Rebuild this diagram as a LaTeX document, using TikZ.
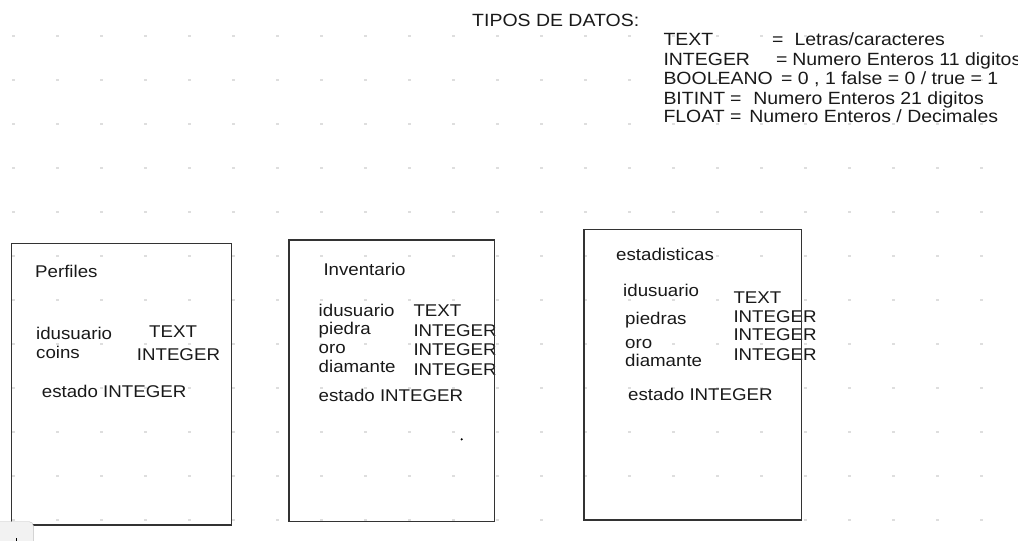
\documentclass[tikz,border=0pt]{standalone}
\usepackage{fontspec}
\setmainfont{Liberation Sans}[FakeStretch=1.1]

\begin{document}
\begin{tikzpicture}[x=1pt, y=-1pt, font=\fontsize{17}{19}\selectfont]
    % Node style
    \tikzstyle{field}=[anchor=base west, inner sep=0pt, text=black!90]
    \tikzstyle{legend}=[field, font=\fontsize{17.7}{19}\selectfont]
    \tikzstyle{table box}=[draw=black!80, line width=1.2pt]
    \tikzstyle{grid dot}=[fill=black!13]

    \useasboundingbox (0,0) rectangle (1018,541);

    % --- Background: dot grid ---
    \foreach \i in {0,...,22}
        \foreach \j in {0,...,11}
            \fill[grid dot] (12.3+44*\i, 34.8+44*\j) rectangle ++(2.4,2.4);

    % --- Title and data types ---
    \node[legend] (tipos) at (472,26) {TIPOS DE DATOS:};
    \node[legend] (t_text) at (663.3,45.7) {\makebox[108.7pt][l]{TEXT}=\hspace{11pt}Letras/caracteres};
    \node[legend] (t_integer) at (663.3,65) {\makebox[112.7pt][l]{INTEGER}=\hspace{4.7pt}Numero Enteros 11 digitos};
    \node[legend] (t_bool) at (663.3,84.3) {\makebox[117.7pt][l]{BOOLEANO}= 0 , 1 false = 0 / true = 1};
    \node[legend] (t_bitint) at (663.3,104) {\makebox[66.7pt][l]{BITINT}=\hspace{11.7pt}Numero Enteros 21 digitos};
    \node[legend] (t_float) at (663.3,122.7) {\makebox[66.7pt][l]{FLOAT}=\hspace{7.7pt}Numero Enteros / Decimales};

    % --- Table: Perfiles ---
    \node[field] (perfiles) at (35,277.3) {Perfiles};
    \node[field] (p_id) at (36,339.5) {idusuario};
    \node[field] (p_coins) at (36,358.3) {coins};
    \node[field] (p_id_type) at (149,337.5) {TEXT};
    \node[field] (p_coins_type) at (136.7,360.5) {INTEGER};
    \node[field] (p_estado) at (41.7,397) {estado INTEGER};

    % --- Table: Inventario ---
    \node[field] (inventario) at (323.3,275) {Inventario};
    \node[field] (i_id) at (318.5,316) {idusuario};
    \node[field] (i_piedra) at (318.5,334) {piedra};
    \node[field] (i_oro) at (318.5,353) {oro};
    \node[field] (i_diamante) at (318.5,372) {diamante};
    \node[field] (i_id_type) at (413.3,316) {TEXT};
    \node[field] (i_piedra_type) at (413.3,336) {INTEGER};
    \node[field] (i_oro_type) at (413.3,355.5) {INTEGER};
    \node[field] (i_diamante_type) at (413.3,375) {INTEGER};
    \node[field] (i_estado) at (318.5,401) {estado INTEGER};
    \fill[black] (461.7,439.3) circle (1.2);

    % --- Table: estadisticas ---
    \node[field] (estadisticas) at (616,260) {estadisticas};
    \node[field] (e_id) at (623,296) {idusuario};
    \node[field] (e_piedras) at (625,324) {piedras};
    \node[field] (e_oro) at (625,348.3) {oro};
    \node[field] (e_diamante) at (625,366.7) {diamante};
    \node[field] (e_id_type) at (733.3,303.3) {TEXT};
    \node[field] (e_piedras_type) at (733.3,322.7) {INTEGER};
    \node[field] (e_oro_type) at (733.3,340.7) {INTEGER};
    \node[field] (e_diamante_type) at (733.3,360) {INTEGER};
    \node[field] (e_estado) at (628,400) {estado INTEGER};

    % Table frames
    \draw[table box] (11.7,243.3) rectangle (231.7,525);
    \draw[table box] (289,240) rectangle (494.3,521.7);
    \draw[table box] (584,229.3) rectangle (801.7,520);

    % --- Corner button (cut off) ---
    \draw[fill=black!5, draw=black!25, rounded corners=4pt] (-6,521.7) rectangle (33.3,560);
    \draw[black, line width=1.2pt] (16.7,538) -- (16.7,541);

\end{tikzpicture}
\end{document}
